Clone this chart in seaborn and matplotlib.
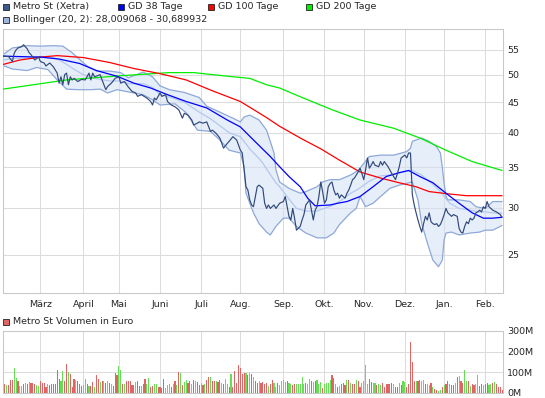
import numpy as np
import matplotlib
matplotlib.use("Agg")
import matplotlib.pyplot as plt
import seaborn as sns
from matplotlib.patches import Rectangle
from matplotlib.ticker import NullLocator

# x-Achse: Handelstage ab 1. Feb. 2011 (Index), Monatsanfaenge
monat_start = [20, 43, 62, 84, 106, 127, 150, 172, 193, 215, 236, 258]
monat_namen = ["März", "April", "Mai", "Juni", "Juli", "Aug.", "Sep.", "Okt.",
               "Nov.", "Dez.", "Jan.", "Feb."]
kurs_ticks = [25, 30, 35, 40, 45, 50, 55]
vol_ticks = [0, 100, 200, 300]

# Schlusskurs Metro St (Xetra), (Handelstag, Euro)
kurs_punkte = [
    (0, 53.7), (3, 53.6), (5, 52.6), (6, 54.3), (7, 55.0), (8, 55.4), (10, 55.7), (11, 56.1),
    (13, 55.2), (14, 54.4), (15, 54.0), (17, 52.9), (19, 53.5), (20, 52.6), (22, 52.3), (23, 51.7),
    (25, 52.3), (27, 51.5), (29, 50.3), (30, 48.4), (31, 49.6), (32, 48.1), (33, 50.0), (34, 50.3),
    (35, 48.1), (36, 49.6), (37, 49.0), (38, 49.3), (40, 48.7), (42, 49.1), (44, 49.0), (46, 50.3),
    (47, 49.0), (48, 50.3), (49, 49.6), (52, 50.0), (53, 49.0), (55, 47.2), (56, 47.8), (58, 48.4),
    (60, 49.3), (62, 49.6), (63, 48.4), (65, 48.7), (67, 47.7), (69, 46.9), (71, 46.6), (72, 46.0),
    (74, 46.3), (77, 45.7), (79, 45.1), (80, 44.5), (81, 45.7), (82, 45.4), (84, 46.6), (85, 46.0),
    (87, 46.3), (88, 45.1), (90, 44.5), (92, 44.2), (94, 43.7), (96, 42.3), (97, 43.1), (99, 42.8),
    (101, 42.0), (102, 41.2), (104, 41.5), (105, 41.7), (107, 41.5), (109, 41.7), (111, 40.2),
    (112, 40.4), (114, 39.9), (116, 39.2), (118, 37.7), (120, 38.4), (121, 38.7), (123, 39.4),
    (125, 38.9), (127, 37.4), (128, 37.0), (129, 34.7), (130, 32.5), (131, 32.1), (132, 30.9),
    (133, 30.3), (134, 30.1), (135, 31.3), (136, 32.5), (137, 32.7), (138, 32.5), (139, 32.3),
    (140, 30.5), (141, 29.9), (142, 30.3), (143, 29.9), (145, 30.3), (146, 29.9), (148, 30.5),
    (150, 30.7), (151, 31.3), (152, 30.1), (153, 29.0), (154, 28.6), (155, 29.9), (156, 28.8),
    (157, 27.5), (158, 27.7), (159, 27.9), (160, 28.6), (161, 29.2), (162, 30.3), (163, 30.6),
    (164, 30.9), (165, 29.7), (166, 28.6), (167, 29.7), (168, 30.1), (169, 31.3), (170, 33.1),
    (171, 31.9), (172, 30.5), (173, 30.9), (174, 32.5), (175, 32.9), (176, 33.1), (177, 32.1),
    (178, 31.5), (179, 31.7), (180, 31.1), (181, 31.5), (183, 31.1), (184, 31.7), (185, 32.1),
    (186, 32.7), (187, 33.4), (188, 33.6), (190, 34.4), (191, 34.9), (192, 34.2), (193, 33.4),
    (194, 34.7), (195, 36.3), (196, 34.9), (197, 35.3), (198, 35.8), (199, 35.3), (201, 35.1),
    (202, 35.8), (203, 35.3), (204, 35.8), (206, 35.1), (208, 34.2), (209, 33.8), (210, 33.4),
    (211, 34.2), (212, 35.1), (213, 36.3), (214, 36.5), (215, 36.7), (216, 36.3), (217, 37.0),
    (218, 37.0), (219, 31.5), (220, 30.3), (221, 29.4), (222, 28.6), (223, 27.9), (224, 27.3),
    (225, 28.2), (226, 29.0), (227, 28.6), (228, 29.4), (229, 28.4), (230, 28.2), (231, 28.1),
    (232, 28.2), (233, 27.9), (234, 28.1), (235, 28.6), (236, 29.2), (237, 29.9), (238, 29.4),
    (239, 29.2), (240, 29.0), (241, 29.2), (243, 29.0), (244, 27.7), (245, 27.3), (246, 27.2),
    (247, 27.9), (248, 28.4), (249, 28.2), (250, 28.8), (251, 28.6), (252, 28.8), (253, 29.4),
    (254, 29.5), (255, 29.7), (256, 29.5), (257, 30.1), (258, 29.9), (259, 30.7), (260, 30.1),
    (262, 29.7), (264, 29.5), (266, 29.2), (267, 28.9),
]

# gleitende Durchschnitte
gd38 = [(0, 53.7), (9, 53.6), (20, 53.5), (30, 53.1), (41, 52.2), (50, 50.8), (61, 49.7),
        (70, 48.4), (79, 47.5), (88, 46.3), (98, 45.1), (109, 44.0), (120, 42.0), (127, 40.9),
        (134, 38.9), (143, 36.5), (148, 35.1), (153, 33.8), (159, 32.5), (163, 31.1), (167, 30.2),
        (175, 30.3), (179, 30.5), (184, 30.7), (191, 31.3), (198, 32.5), (205, 33.8), (212, 34.3),
        (217, 34.6), (223, 33.8), (230, 33.0), (237, 31.7), (244, 30.5), (251, 29.4), (257, 28.8),
        (262, 28.8), (267, 28.9)]
gd100 = [(0, 52.0), (9, 52.9), (20, 53.5), (29, 53.8), (43, 53.4), (57, 52.4), (70, 51.2),
         (84, 50.2), (98, 49.0), (112, 47.0), (127, 45.1), (141, 42.4), (148, 41.0), (159, 39.2),
         (170, 37.6), (180, 36.0), (191, 34.4), (202, 33.6), (212, 33.0), (221, 32.5), (228, 31.9),
         (239, 31.6), (248, 31.4), (267, 31.4)]
gd200 = [(0, 47.3), (34, 49.0), (63, 49.8), (89, 50.4), (102, 50.4), (123, 49.6), (132, 49.3),
         (141, 48.1), (148, 47.5), (160, 45.8), (176, 43.7), (191, 42.0), (209, 40.7), (223, 39.2),
         (237, 37.4), (251, 35.8), (267, 34.6)]

# Bollinger (20, 2)
bb_oben = [(0, 54.0), (5, 55.4), (13, 55.9), (20, 55.8), (27, 55.9), (32, 55.8), (37, 54.4),
           (42, 52.7), (45, 51.7), (50, 50.7), (57, 50.7), (63, 50.4), (67, 49.4), (75, 50.5),
           (80, 49.6), (84, 47.9), (89, 47.2), (97, 46.7), (105, 45.8), (109, 44.3), (116, 43.3),
           (123, 42.3), (127, 41.7), (129, 42.5), (132, 42.8), (137, 42.0), (141, 40.4), (145, 37.0),
           (146, 34.7), (148, 33.1), (153, 32.3), (159, 31.7), (162, 31.9), (168, 32.5), (171, 33.1),
           (175, 33.4), (180, 33.4), (186, 34.0), (190, 34.6), (196, 36.5), (202, 36.7), (209, 36.7),
           (216, 37.2), (218, 37.7), (219, 38.7), (221, 38.9), (224, 39.2), (228, 38.7), (232, 37.9),
           (234, 37.0), (235, 35.1), (236, 32.9), (237, 31.3), (238, 30.9), (244, 30.9), (250, 30.7),
           (253, 30.1), (258, 29.9), (262, 30.7), (267, 30.7)]
bb_unten = [(0, 51.8), (5, 51.1), (13, 50.8), (18, 51.4), (24, 51.0), (29, 49.0), (34, 47.3),
            (40, 47.2), (47, 47.2), (52, 47.3), (56, 46.6), (61, 47.2), (67, 46.8), (75, 46.3),
            (80, 45.4), (84, 44.5), (92, 44.7), (98, 43.2), (104, 40.4), (111, 40.2), (116, 38.9),
            (121, 37.4), (127, 37.0), (129, 35.1), (130, 31.7), (134, 29.4), (137, 28.2), (141, 27.3),
            (143, 27.0), (146, 27.9), (150, 28.8), (153, 28.8), (157, 27.9), (162, 27.2), (168, 26.7),
            (173, 26.7), (177, 27.2), (180, 28.1), (186, 29.4), (189, 29.9), (191, 31.3), (194, 30.1),
            (198, 30.5), (202, 31.3), (207, 32.3), (212, 32.7), (219, 33.1), (222, 30.9), (224, 28.2),
            (227, 26.2), (230, 24.5), (233, 23.9), (235, 24.5), (236, 26.5), (237, 27.2), (240, 27.3),
            (244, 27.0), (250, 27.2), (255, 27.3), (258, 27.5), (262, 27.5), (267, 28.0)]
bb_mitte = [(0, 52.9), (5, 53.2), (13, 53.3), (20, 53.6), (27, 53.4), (32, 52.5), (37, 51.3),
            (42, 50.2), (47, 49.5), (52, 49.1), (57, 48.8), (63, 48.8), (67, 48.3), (75, 48.3),
            (80, 47.6), (84, 46.3), (89, 45.9), (97, 45.0), (105, 43.3), (111, 42.2), (116, 41.1),
            (121, 40.0), (127, 39.4), (132, 37.6), (137, 36.2), (139, 35.6), (141, 34.8), (146, 33.0),
            (148, 32.5), (153, 31.0), (157, 29.9), (162, 29.6), (168, 29.6), (173, 30.0), (177, 30.3),
            (180, 30.7), (186, 31.7), (190, 32.2), (196, 33.2), (202, 33.9), (207, 34.0), (212, 34.3),
            (219, 34.6), (224, 34.0), (227, 33.4), (230, 32.8), (234, 31.9), (239, 30.5), (244, 29.9),
            (250, 29.7), (255, 29.5), (258, 29.5), (262, 29.4), (267, 29.35)]

# Volumen in Mio. Euro pro Handelstag, g = Kurs gestiegen, r = gefallen
vol_mio = [
    84, 44, 39, 39, 64, 64, 118, 73, 56, 34,
    34, 42, 47, 44, 51, 47, 47, 42, 39, 34,
    56, 47, 47, 30, 42,
    39, 42, 42, 42,
    112, 68, 56, 106, 56, 140, 101, 90,
    27, 68, 61, 56, 42, 34, 39, 68, 42, 34, 34, 51,
    30, 84, 68, 51, 56, 59, 47, 59, 47, 44, 34,
    98, 84, 128, 112, 44, 42, 56, 56, 56, 39, 39, 51, 56,
    34, 34, 42, 68, 42, 73, 27, 34, 44, 44, 27, 27, 22, 68, 22, 39, 42, 27, 44, 56, 39, 101, 98, 39, 51,
    64, 47, 56, 44, 64, 56, 51, 39, 47, 39, 44, 64, 76, 76,
    59, 56, 56, 51, 64, 47, 44, 68, 44, 30, 90,
    30, 106, 47, 135, 118, 90, 98, 98, 84, 98, 90, 78,
    56, 47, 56, 47, 51, 42, 47, 34, 44, 64, 47, 27, 47, 39, 56, 64, 51, 56, 47, 44, 39, 44, 42, 44, 44,
    78, 42, 47, 42, 68, 59, 51, 56, 64, 42, 51, 22,
    42, 47, 47, 64, 84, 73, 42, 30, 34, 44, 47, 39,
    64, 61, 47, 42, 42, 64, 56, 30, 47, 56, 135, 42, 68,
    51, 47, 47, 39, 44, 39, 47, 30, 42, 44, 44, 47, 44, 30, 30, 47, 39, 56, 51, 27, 44, 247, 149, 56,
    56, 56, 64, 56, 64, 44, 44, 39, 47, 30, 17, 14,
    10, 14, 30, 39, 44, 56, 44, 39, 39, 47, 78, 81,
    56, 47, 112, 56, 56, 34, 42, 39, 44, 84, 34, 42, 39, 44, 47, 39, 42, 47, 51, 44, 27, 27, 14,
]
vol_richtung = ("grgrrrggrg" "grgrgrrrgg" "rrrrg" "rrrr" "rrggrrgr" "rrgrrrggrgrr"
                "grrgrgrgrgr" "rrggrgrrrrrgr" "rgrrggrrggrrrrgggrgrgrgrg" "grrgrgrrgrgrrg"
                "rrgrrgrggrg" "rrrrrrrgrgrg" "rrgrrrrgrrggrggggrggrrggg" "ggrggrgrgggr"
                "ggggrrgrgrrr" "grgrrgrrggggr" "rggrggrrrrrrgrrgrggrrrrr" "grrggrggrgrr"
                "ggrgrrgrrgrg" "rrggrgrrggrrgrrggrgrrrr")

sns.set_style("white")
plt.rcParams["font.family"] = ["DejaVu Sans"]
plt.rcParams["font.size"] = 6.8

W, H = 545, 398
fig = plt.figure(figsize=(W / 100, H / 100), dpi=100)
ax = fig.add_axes([3 / W, 1 - 293 / H, 500 / W, 264 / H])
axv = fig.add_axes([3 / W, 1 - 392.7 / H, 500 / W, 61.7 / H])

gitter = "#dcdcdc"
rand = "#c8c8c8"
kurs_farbe = "#30497a"


def xy(punkte):
    return [p[0] for p in punkte], [p[1] for p in punkte]


# Bollinger-Band
ox, oy = xy(bb_oben)
ux, uy = xy(bb_unten)
ax.fill(ox + ux[::-1], oy + uy[::-1], color="#d3e0f5", alpha=0.55, lw=0, zorder=1)
for punkte, farbe in [(bb_mitte, "#b4c8ee"), (bb_oben, "#8ea8d9"), (bb_unten, "#8ea8d9")]:
    px, py = xy(punkte)
    sns.lineplot(x=px, y=py, ax=ax, color=farbe, lw=0.9, estimator=None, sort=False, zorder=2)

for punkte, farbe in [(gd200, "#00ee00"), (gd100, "#ff0000"), (gd38, "#0000ff")]:
    px, py = xy(punkte)
    sns.lineplot(x=px, y=py, ax=ax, color=farbe, lw=0.9, estimator=None, sort=False, zorder=3)

kx, ky = xy(kurs_punkte)
sns.lineplot(x=kx, y=ky, ax=ax, color=kurs_farbe, lw=0.85, estimator=None, sort=False, zorder=4)

ax.set_yscale("log")
ax.set_ylim(21.6, 59.6)
ax.set_xlim(0, 267.5)
ax.yaxis.tick_right()
ax.set_yticks(kurs_ticks)
ax.set_yticklabels([str(t) for t in kurs_ticks])
ax.yaxis.set_minor_locator(NullLocator())
ax.set_xticks(monat_start)
ax.set_xticklabels(monat_namen)
ax.tick_params(axis="y", length=0, pad=3, labelsize=6.8)
ax.tick_params(axis="x", length=0, pad=5, labelsize=6.8)
ax.grid(True, color=gitter, lw=0.75)
ax.set_xlabel("")
ax.set_ylabel("")

# Volumen
tage = list(range(len(vol_mio)))
sns.barplot(x=tage, y=vol_mio, hue=list(vol_richtung), ax=axv, native_scale=True,
            palette={"r": "#e06464", "g": "#66dd55"}, dodge=False, width=0.6,
            saturation=1, errorbar=None, legend=False, linewidth=0)
axv.set_xlim(0, 267.5)
axv.set_ylim(0, 300)
axv.yaxis.tick_right()
axv.set_yticks(vol_ticks)
axv.set_yticklabels([f"{t}M" for t in vol_ticks])
axv.set_xticks(monat_start)
axv.tick_params(axis="y", length=0, pad=3, labelsize=6.8)
axv.tick_params(axis="x", length=0, labelbottom=False)
axv.grid(True, color=gitter, lw=0.75)
axv.set_xlabel("")
axv.set_ylabel("")

for a in (ax, axv):
    for s in a.spines.values():
        s.set_visible(True)
        s.set_color(rand)
        s.set_linewidth(0.75)


def legende(x_px, y_px, farbe, text):
    fig.add_artist(Rectangle((x_px / W, 1 - (y_px + 3) / H), 6 / W, 6 / H,
                             transform=fig.transFigure, facecolor=farbe,
                             edgecolor="#222222", lw=0.6))
    fig.text((x_px + 10) / W, 1 - y_px / H, text, va="center", ha="left", fontsize=6.8)


legende(3, 6.5, "#3d5a8c", "Metro St (Xetra)")
legende(118, 6.5, "#0000ff", "GD 38 Tage")
legende(208, 6.5, "#ff0000", "GD 100 Tage")
legende(306, 6.5, "#00ee00", "GD 200 Tage")
legende(3, 20, "#9db4e2", "Bollinger (20, 2): 28,009068 - 30,689932")
legende(3, 321.5, "#e06464", "Metro St Volumen in Euro")

fig.savefig("out.png", dpi=100)
